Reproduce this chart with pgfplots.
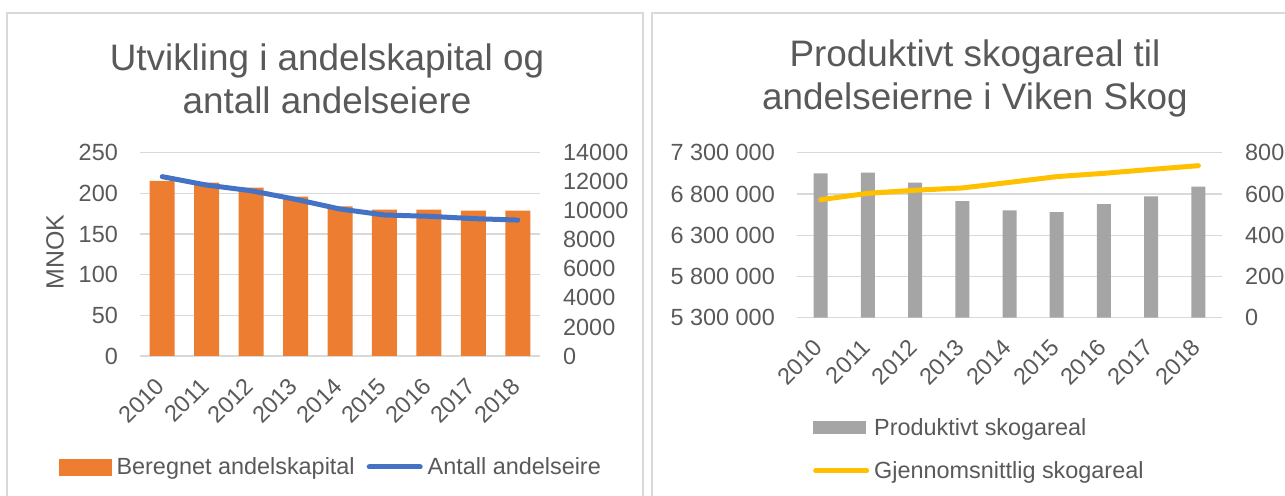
\documentclass[border=0pt]{standalone}
\usepackage{pgfplots}
\pgfplotsset{compat=1.18}
\usepackage{fontspec}
\setmainfont{Liberation Sans}
\definecolor{txt}{HTML}{595959}
\definecolor{gridc}{HTML}{D9D9D9}
\definecolor{orange1}{HTML}{ED7D31}
\definecolor{blue1}{HTML}{4472C4}
\definecolor{gray1}{HTML}{A5A5A5}
\definecolor{yellow1}{HTML}{FFC000}
\newcommand\fs{\fontsize{23.5}{28}\selectfont}
\newcommand\ft{\fontsize{37}{43}\selectfont}
\begin{document}
\begin{tikzpicture}[x=1bp,y=1bp]
\pgfplotsset{
  base/.style={
    scale only axis, anchor=south west,
    xmin=-0.5, xmax=8.5,
    font=\fs,
    axis line style={draw=none},
    major tick length=0pt,
    tick style={draw=none},
    ticklabel style={text=txt},
    scaled y ticks=false,
    /pgf/number format/assume math mode=true,
    /pgf/number format/1000 sep={},
  },
  xyears/.style={
    axis x line*=bottom,
    xtick={0,1,2,3,4,5,6,7,8},
    xticklabels={2010,2011,2012,2013,2014,2015,2016,2017,2018},
    xticklabel style={xshift=-2bp, yshift=-26bp, rotate=45, anchor=east, inner sep=0pt},
    ymajorgrids, grid style={draw=gridc, line width=1.2bp},
    axis y line*=left,
    yticklabel style={anchor=east, inner sep=0pt, xshift=-22bp},
  },
  rightax/.style={
    axis x line=none, axis y line*=right,
    yticklabel style={anchor=west, inner sep=0pt, xshift=23bp},
  },
  leg/.style={
    legend cell align=left,
    legend style={draw=none, fill=none, inner sep=0pt, font=\fs,
      nodes={inner sep=0pt, text=txt}},
  },
}
% ---------------- left chart ----------------
\begin{axis}[base, xyears, at={(140bp,140bp)}, width=400bp, height=203.3bp,
  ymin=0, ymax=250, ytick={0,50,100,150,200,250},
  ybar, bar width=25bp]
\addplot[fill=orange1, draw=none] coordinates {
  (0,215.2) (1,213.1) (2,207.0) (3,195.9) (4,184.0)
  (5,180.0) (6,180.0) (7,178.7) (8,178.7)};
\end{axis}
\begin{axis}[base, rightax, leg, at={(140bp,140bp)}, width=400bp, height=203.3bp,
  ymin=0, ymax=14000, ytick={0,2000,4000,6000,8000,10000,12000,14000},
  legend columns=2,
  legend style={at={(axis description cs:0.475,-0.546)}, anchor=center,
    /tikz/every odd column/.style={column sep=5bp},
    /tikz/every even column/.style={column sep=12bp}}]
\addlegendimage{legend image code/.code={\fill[orange1] (0bp,-8bp) rectangle (52bp,8bp);}}
\addlegendentry{Beregnet andelskapital}
\addplot[blue1, line width=5bp, line join=round, line cap=round,
  legend image code/.code={\draw[blue1, line width=5bp, line cap=round] (2bp,0bp) -- (53bp,0bp);}]
  coordinates {
  (0,12350) (1,11770) (2,11380) (3,10790) (4,10120)
  (5,9710) (6,9620) (7,9460) (8,9360)};
\addlegendentry{Antall andelseire}
\end{axis}
% ---------------- right chart ----------------
\begin{axis}[base, xyears, at={(797bp,178.3bp)}, width=425bp, height=165bp,
  ymin=5300000, ymax=7300000, ytick={5300000,5800000,6300000,6800000,7300000},
  yticklabels={5 300 000,5 800 000,6 300 000,6 800 000,7 300 000},
  ybar, bar width=14bp]
\addplot[fill=gray1, draw=none] coordinates {
  (0,7050000) (1,7058000) (2,6936000) (3,6714000) (4,6602000)
  (5,6581000) (6,6678000) (7,6771000) (8,6888000)};
\end{axis}
\begin{axis}[base, rightax, leg, at={(797bp,178.3bp)}, width=425bp, height=165bp,
  ymin=0, ymax=800, ytick={0,200,400,600,800},
  legend columns=1,
  legend style={at={(axis description cs:0.0376,-0.796)}, anchor=west,
    row sep=25bp,
    /tikz/every odd column/.style={column sep=5bp}}]
\addlegendimage{legend image code/.code={\fill[gray1] (0bp,-6bp) rectangle (52bp,6bp);}}
\addlegendentry{Produktivt skogareal}
\addplot[yellow1, line width=5bp, line join=round, line cap=round,
  legend image code/.code={\draw[yellow1, line width=5bp, line cap=round] (2bp,0bp) -- (53bp,0bp);}]
  coordinates {
  (0,572) (1,603) (2,618) (3,629) (4,656)
  (5,684) (6,700) (7,719) (8,737)};
\addlegendentry{Gjennomsnittlig skogareal}
\end{axis}
% ---------------- frames, titles ----------------
\draw[gridc, line width=1.3bp] (7,-10) -- (7,483) -- (643,483) -- (643,-10);
\draw[gridc, line width=1.3bp] (652,-10) -- (652,483) -- (1300,483);
\node[align=center, font=\ft, text=txt] at (327,417.5) {Utvikling i andelskapital og\\antall andelseiere};
\node[align=center, font=\ft, text=txt] at (975,417.5) {Produktivt skogareal til\\andelseierne i Viken Skog};
\node[rotate=90, font=\fontsize{25}{30}\selectfont, text=txt] at (55,244) {MNOK};
\pgfresetboundingbox
\path[use as bounding box] (0,0) rectangle (1285,496);
\end{tikzpicture}
\end{document}
